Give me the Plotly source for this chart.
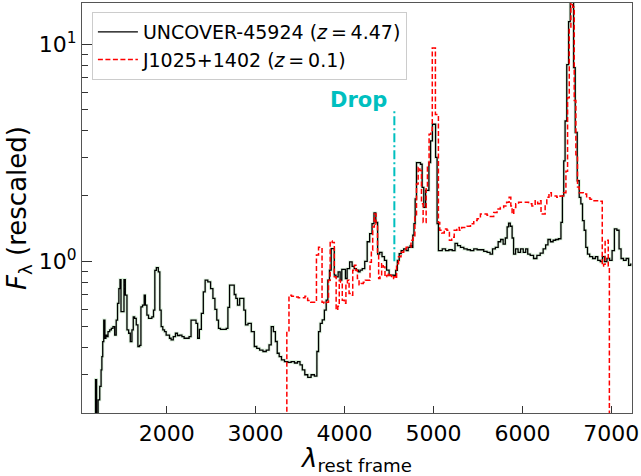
import math
import plotly.graph_objects as go

# UNCOVER-45924 spectrum (rest frame)
uncover_wave = [1195, 1205, 1220, 1238, 1257, 1268, 1275, 1287, 1298, 1313, 1320, 1331, 1350, 1369, 1387, 1406, 1425, 1440, 1455, 1470, 1481, 1492, 1514, 1526, 1544, 1563, 1582, 1600, 1619, 1630, 1649, 1667, 1686, 1705, 1716, 1742, 1753, 1768, 1787, 1805, 1824, 1843, 1861, 1873, 1895, 1917, 1929, 1947, 1966, 1985, 2003, 2022, 2041, 2059, 2089, 2108, 2134, 2160, 2183, 2209, 2239, 2265, 2283, 2321, 2339, 2358, 2377, 2403, 2421, 2444, 2481, 2507, 2533, 2552, 2575, 2590, 2619, 2657, 2683, 2694, 2720, 2750, 2769, 2787, 2806, 2836, 2858, 2877, 2896, 2933, 2970, 3000, 3026, 3064, 3101, 3138, 3164, 3187, 3213, 3232, 3254, 3276, 3306, 3344, 3381, 3418, 3456, 3486, 3512, 3538, 3568, 3605, 3642, 3680, 3698, 3717, 3736, 3762, 3784, 3803, 3821, 3840, 3859, 3877, 3892, 3915, 3941, 3960, 3978, 4004, 4016, 4042, 4072, 4098, 4120, 4146, 4165, 4184, 4214, 4240, 4269, 4296, 4322, 4340, 4363, 4381, 4408, 4434, 4463, 4482, 4520, 4546, 4568, 4583, 4605, 4624, 4650, 4680, 4706, 4725, 4751, 4762, 4773, 4788, 4800, 4818, 4844, 4863, 4882, 4900, 4923, 4941, 4956, 4979, 4997, 5016, 5031, 5050, 5061, 5080, 5117, 5154, 5192, 5229, 5255, 5285, 5322, 5360, 5397, 5434, 5472, 5509, 5546, 5584, 5621, 5651, 5677, 5714, 5740, 5770, 5796, 5819, 5837, 5852, 5875, 5893, 5908, 5938, 5964, 5994, 6024, 6050, 6069, 6106, 6144, 6181, 6218, 6248, 6274, 6300, 6330, 6360, 6386, 6424, 6442, 6457, 6472, 6487, 6510, 6528, 6547, 6566, 6584, 6603, 6629, 6648, 6666, 6685, 6703, 6722, 6741, 6771, 6808, 6834, 6860, 6890, 6909, 6935, 6965, 6995, 7021, 7047, 7077, 7096, 7122, 7151, 7181, 7207, 7226]
uncover_flux = [0.15, 0.285, 0.17, 0.23, 0.265, 0.316, 0.364, 0.426, 0.536, 0.442, 0.457, 0.450, 0.474, 0.483, 0.491, 0.500, 0.457, 0.536, 0.640, 0.749, 0.824, 0.586, 0.586, 0.824, 0.698, 0.483, 0.466, 0.426, 0.483, 0.555, 0.546, 0.509, 0.405, 0.41, 0.617, 0.628, 0.698, 0.628, 0.565, 0.546, 0.546, 0.555, 0.596, 0.909, 0.935, 0.893, 0.596, 0.500, 0.483, 0.474, 0.457, 0.457, 0.442, 0.434, 0.45, 0.466, 0.455, 0.457, 0.450, 0.442, 0.442, 0.450, 0.536, 0.536, 0.518, 0.442, 0.486, 0.575, 0.723, 0.818, 0.804, 0.749, 0.674, 0.600, 0.536, 0.491, 0.486, 0.486, 0.491, 0.613, 0.776, 0.776, 0.703, 0.674, 0.628, 0.674, 0.674, 0.596, 0.509, 0.518, 0.474, 0.405, 0.397, 0.390, 0.384, 0.390, 0.412, 0.500, 0.474, 0.427, 0.377, 0.364, 0.351, 0.345, 0.342, 0.345, 0.340, 0.345, 0.333, 0.316, 0.300, 0.292, 0.300, 0.296, 0.384, 0.474, 0.518, 0.537, 0.596, 0.662, 0.818, 0.910, 1.143, 1.143, 0.863, 0.848, 0.893, 0.818, 0.917, 0.917, 0.833, 0.925, 0.993, 0.948, 0.925, 0.910, 0.893, 0.910, 0.925, 1.00, 1.23, 1.34, 1.49, 1.67, 1.51, 1.08, 1.10, 1.05, 1.01, 0.910, 0.863, 0.863, 0.86, 0.909, 1.01, 1.085, 1.12, 1.14, 1.12, 1.16, 1.18, 1.16, 1.32, 1.49, 1.94, 2.85, 2.85, 2.80, 2.19, 1.77, 2.12, 2.12, 2.85, 3.59, 4.28, 4.28, 3.01, 1.49, 1.12, 1.12, 1.14, 1.12, 1.13, 1.12, 1.21, 1.18, 1.16, 1.14, 1.13, 1.12, 1.14, 1.13, 1.13, 1.11, 1.10, 1.08, 1.14, 1.16, 1.23, 1.26, 1.20, 1.28, 1.44, 1.50, 1.45, 1.28, 1.08, 1.14, 1.10, 1.14, 1.10, 1.14, 1.08, 1.065, 1.03, 1.065, 1.09, 1.14, 1.19, 1.26, 1.23, 1.25, 1.26, 1.27, 1.51, 2.0, 2.90, 4.43, 8.05, 12.7, 17.0, 17.0, 7.8, 3.92, 2.35, 1.97, 1.84, 1.54, 1.39, 1.16, 1.08, 1.05, 1.03, 1.05, 1.01, 0.996, 1.05, 0.996, 1.03, 1.01, 1.12, 1.41, 1.39, 1.14, 1.03, 1.01, 1.03, 0.958, 0.97]

# J1025+1402 spectrum (rest frame)
j1025_wave = [3340, 3362, 3388, 3420, 3460, 3500, 3540, 3570, 3600, 3640, 3670, 3698, 3717, 3740, 3754, 3784, 3810, 3829, 3848, 3874, 3896, 3915, 3933, 3948, 3963, 3986, 4008, 4023, 4042, 4060, 4083, 4101, 4120, 4135, 4154, 4172, 4202, 4221, 4247, 4277, 4296, 4307, 4326, 4344, 4363, 4378, 4389, 4408, 4426, 4445, 4464, 4482, 4501, 4520, 4538, 4564, 4576, 4594, 4620, 4650, 4680, 4706, 4732, 4762, 4781, 4800, 4818, 4837, 4856, 4874, 4893, 4912, 4923, 4941, 4960, 4979, 4994, 5012, 5031, 5050, 5061, 5080, 5106, 5136, 5166, 5192, 5218, 5248, 5277, 5304, 5330, 5360, 5397, 5434, 5472, 5509, 5546, 5584, 5621, 5658, 5696, 5733, 5770, 5808, 5837, 5864, 5875, 5893, 5912, 5938, 5976, 6013, 6050, 6088, 6125, 6162, 6181, 6200, 6218, 6248, 6263, 6285, 6312, 6338, 6368, 6405, 6442, 6480, 6498, 6517, 6536, 6554, 6573, 6592, 6610, 6629, 6648, 6666, 6703, 6741, 6778, 6815, 6853, 6890, 6905, 6920, 6940, 6960, 6970, 6985]
j1025_flux = [0.1, 0.474, 0.698, 0.69, 0.685, 0.68, 0.68, 0.69, 0.66, 0.647, 0.647, 1.07, 1.16, 1.16, 0.647, 0.64, 0.647, 0.818, 1.24, 1.22, 0.848, 0.596, 0.62, 0.818, 0.80, 0.662, 0.64, 0.79, 0.818, 0.71, 0.698, 0.91, 0.96, 0.91, 0.833, 0.78, 0.79, 0.80, 0.818, 0.818, 0.99, 1.125, 1.44, 1.65, 1.48, 1.08, 0.833, 0.848, 0.975, 0.94, 0.848, 0.86, 0.88, 0.86, 0.833, 0.848, 0.833, 0.975, 1.05, 1.10, 1.14, 1.16, 1.16, 1.25, 1.29, 1.60, 2.27, 2.71, 2.62, 1.84, 1.51, 1.51, 2.19, 2.71, 3.85, 4.0, 9.6, 9.6, 4.75, 4.75, 1.51, 1.39, 1.35, 1.41, 1.39, 1.25, 1.29, 1.39, 1.43, 1.39, 1.43, 1.43, 1.45, 1.49, 1.54, 1.57, 1.65, 1.65, 1.63, 1.61, 1.68, 1.74, 1.77, 1.80, 1.87, 1.97, 1.80, 1.65, 1.77, 1.84, 1.87, 1.87, 1.87, 1.84, 1.80, 1.90, 1.84, 1.90, 1.65, 1.65, 1.84, 1.97, 2.07, 2.00, 2.00, 1.97, 2.00, 2.07, 2.60, 5.67, 11.9, 17.0, 14.8, 5.5, 3.1, 2.2, 2.07, 2.07, 2.04, 1.96, 1.93, 1.90, 1.90, 1.89, 0.95, 0.97, 1.25, 1.25, 0.95, 0.1]

# Drop marker
drop_wave = 4560
drop_flux = [1.0, 5.0]
drop_label = "Drop"
drop_label_wave = 4495
drop_label_flux = 4.75

legend_names = ["UNCOVER-45924 (<i>z</i>\u2009=\u20094.47)", "J1025+1402 (<i>z</i>\u2009=\u20090.1)"]
x_ticks = [2000, 3000, 4000, 5000, 6000, 7000]
y_ticks = [1, 10]
y_ticktext = ["10<sup>0</sup>", "10<sup>1</sup>"]
y_minor = [0.2, 0.3, 0.4, 0.5, 0.6, 0.7, 0.8, 0.9, 2, 3, 4, 5, 6, 7, 8, 9]

fig = go.Figure()
# faint error band around UNCOVER spectrum
fig.add_trace(go.Scatter(x=uncover_wave, y=uncover_flux, mode="lines", line_shape="hvh",
                         line=dict(color="rgba(140,210,140,0.3)", width=3),
                         showlegend=False, hoverinfo="skip"))
fig.add_trace(go.Scatter(x=uncover_wave, y=uncover_flux, mode="lines", line_shape="hvh",
                         line=dict(color="black", width=1.3), name=legend_names[0]))
fig.add_trace(go.Scatter(x=j1025_wave, y=j1025_flux, mode="lines", line_shape="hvh",
                         line=dict(color="red", width=1.5, dash="5px,2.5px"), name=legend_names[1]))
fig.add_trace(go.Scatter(x=[drop_wave, drop_wave], y=drop_flux, mode="lines",
                         line=dict(color="#00BFBF", width=2, dash="9px,3px,2px,3px"),
                         showlegend=False))

# annotations on log axes use log10 coordinates
fig.add_annotation(x=drop_label_wave, y=math.log10(drop_label_flux), yref="y", xref="x",
                   text="<b>" + drop_label + "</b>", showarrow=False,
                   xanchor="right", yanchor="bottom",
                   font=dict(family="DejaVu Sans", size=21, color="#00BFBF"))

axis_font = dict(family="DejaVu Sans", size=22, color="black")
fig.update_layout(
    width=641, height=476,
    margin=dict(l=82, r=7, t=2, b=63),
    paper_bgcolor="white", plot_bgcolor="white",
    font=dict(family="DejaVu Sans", size=20, color="black"),
    showlegend=True,
    legend=dict(x=0.018, y=0.978, xanchor="left", yanchor="top",
                bgcolor="rgba(255,255,255,0.8)", bordercolor="#cccccc", borderwidth=1,
                font=dict(family="DejaVu Sans", size=19, color="black"),
                tracegroupgap=0, itemwidth=40),
)
fig.update_xaxes(range=[1048, 7232], tickvals=x_ticks, ticks="inside", ticklen=7,
                 ticklabeloverflow="allow",
                 tickcolor="#333", showline=True, linecolor="#555", linewidth=1.2, mirror=True,
                 showgrid=False, zeroline=False, tickfont=axis_font,
                 title=dict(text="<i>λ</i><sub>rest frame</sub>",
                            font=dict(family="DejaVu Sans", size=26), standoff=2))
fig.update_yaxes(type="log", range=[-0.699, 1.19], tickvals=y_ticks, ticktext=y_ticktext,
                 ticks="inside", ticklen=10, tickcolor="#333",
                 minor=dict(tickvals=y_minor, ticks="inside", ticklen=6, tickcolor="#333", showgrid=False),
                 showline=True, linecolor="#555", linewidth=1.2, mirror=True,
                 showgrid=False, zeroline=False, tickfont=axis_font,
                 title=dict(text="<i>F</i><sub>λ</sub> (rescaled)",
                            font=dict(family="DejaVu Sans", size=26), standoff=4))

fig.write_html("out.html")
